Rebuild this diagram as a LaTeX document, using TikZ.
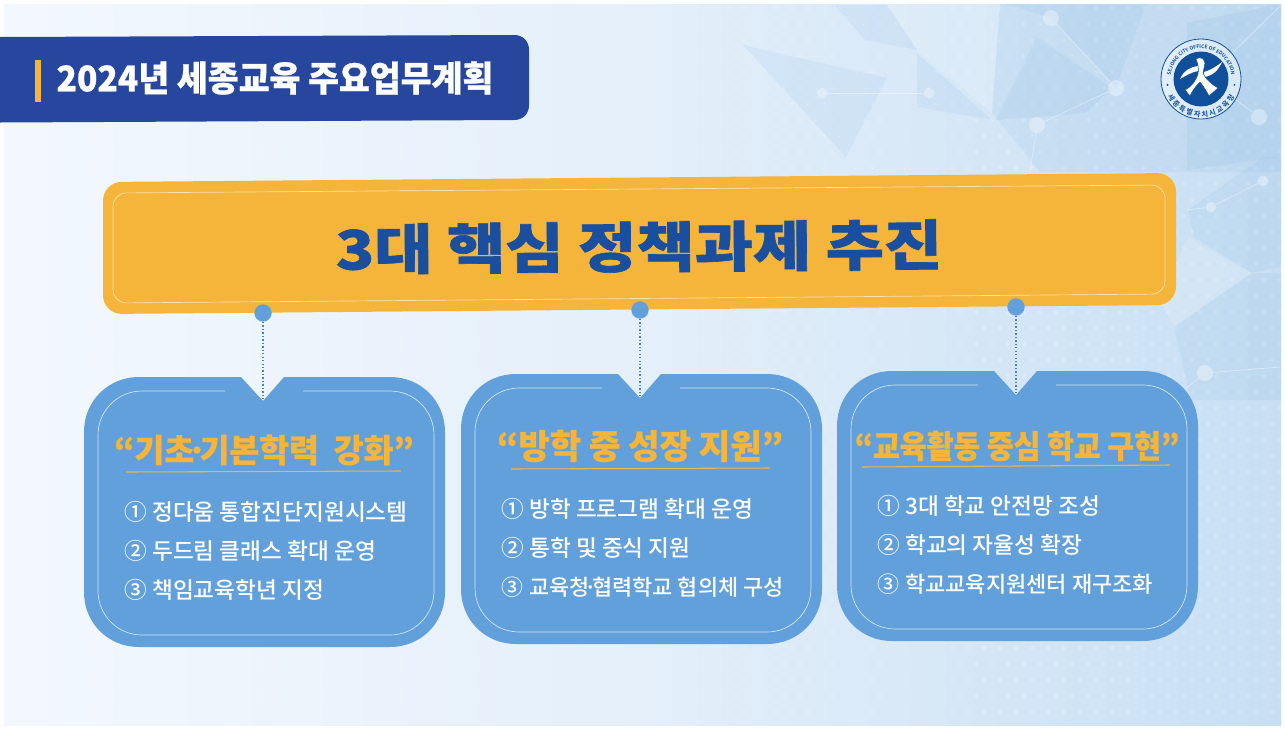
\documentclass[tikz,border=0pt]{standalone}
\usepackage{fontspec}
\usetikzlibrary{positioning, decorations.text}
\setmainfont{Noto Sans CJK KR}
\newfontfamily\krheavy[FakeBold=.8]{Noto Sans CJK KR Black}
\newfontfamily\krbold{Noto Sans CJK KR Bold}
\newfontfamily\krmedium{Noto Sans CJK KR Medium}
\newfontfamily\krwide[FakeStretch=1.17, FakeBold=1.2]{Noto Sans CJK KR Black}
\newfontfamily\krnarrow[FakeStretch=.95, FakeBold=.8]{Noto Sans CJK KR Black}
\newfontfamily\krcond[FakeStretch=.91, FakeBold=.8]{Noto Sans CJK KR Black}
\definecolor{bgleft}{RGB}{243, 248, 254}
\definecolor{bgright}{RGB}{200, 223, 243}
\definecolor{barblue}{RGB}{39, 71, 159}
\definecolor{bandyellow}{RGB}{245, 181, 59}
\definecolor{headblue}{RGB}{26, 79, 160}
\definecolor{cardblue}{RGB}{97, 160, 218}
\definecolor{logoblue}{RGB}{16, 80, 155}
\tikzset{
    polydark/.style={fill=cardblue, fill opacity=.09},
    polylight/.style={fill=white, fill opacity=.14},
    netline/.style={draw=white, opacity=.4, line width=.6pt},
    netdot/.style={circle, fill=white, opacity=.35, inner sep=0pt, minimum size=12pt},
    dotnode/.style={circle, fill=cardblue, inner sep=0pt, minimum size=13pt},
    dottedlink/.style={draw=cardblue!80!black, line width=1pt, dash pattern=on 1pt off 1.6pt},
    cardtitle/.style={text=bandyellow, font=\krheavy\fontsize{24.3}{25}\selectfont, inner sep=0pt},
    itemtext/.style={text=white, anchor=mid west, inner sep=0pt, font=\krmedium\fontsize{17}{17}\selectfont},
    innerline/.style={draw=white, opacity=.75, line width=.5pt},
    underline/.style={draw=bandyellow, line width=.8pt}
}
\newcommand{\numbox}[1]{\makebox[21pt][l]{#1}}
\newcommand{\tightdot}{\kern-.22em·\kern-.22em}
\newcommand{\infocard}[2]{%
    \fill[cardblue] (#1-22,#2) -- (#1-124,#2) .. controls (#1-155,#2) and (#1-179,#2+24) .. (#1-179,#2+55) -- (#1-179,#2+215) .. controls (#1-179,#2+246) and (#1-155,#2+270) .. (#1-124,#2+270) -- (#1+127,#2+270) .. controls (#1+158,#2+270) and (#1+182,#2+246) .. (#1+182,#2+215) -- (#1+182,#2+55) .. controls (#1+182,#2+24) and (#1+158,#2) .. (#1+127,#2) -- (#1+21,#2) -- (#1,#2+24) -- cycle;
    \draw[innerline, rounded corners=33pt] (#1-38,#2+14) -- (#1-165,#2+14) -- (#1-165,#2+258) -- (#1+171,#2+258) -- (#1+171,#2+14) -- (#1+40,#2+14);
}
\begin{document}
\begin{tikzpicture}[x=.75pt, y=-.75pt]
    \useasboundingbox (0,0) rectangle (1285,729);
    \fill[white] (0,0) rectangle (1285,729);
    \shade[left color=bgleft, right color=bgright, middle color=bgleft!65!bgright] (4,4) rectangle (1281,725);

    % backdrop
    \foreach \i in {0,...,79} {\foreach \j in {0,...,44} {
        \fill[white, opacity=.25] ({8+\i*16+mod(\j,2)*8},{8+\j*16}) circle (1.4pt);
    }}
    \fill[polydark] (743,45) -- (887,78) -- (846,157) -- cycle;
    \fill[polydark] (835,5) -- (887,5) -- (917,50) -- (865,40) -- cycle;
    \fill[polydark] (917,53) -- (992,120) -- (917,107) -- cycle;
    \fill[polylight] (887,4) -- (1000,4) -- (992,113) -- (917,50) -- cycle;
    \fill[polydark] (1004,4) -- (1146,4) -- (1116,88) -- (1051,18) -- cycle;
    \fill[polydark] (1037,37) -- (1112,88) -- (1086,113) -- (996,120) -- cycle;
    \fill[polydark] (1000,4) -- (1281,4) -- (1281,172) -- (1040,172) -- (992,113) -- cycle;
    \fill[polydark] (1187,23) -- (1281,4) -- (1281,157) -- (1187,170) -- cycle;
    \fill[polydark] (1188,210) -- (1263,157) -- (1281,157) -- (1281,267) -- (1252,273) -- (1194,237) -- cycle;
    \fill[polylight] (1188,237) -- (1252,273) -- (1174,327) -- (1160,300) -- cycle;
    \fill[polydark] (1174,327) -- (1252,273) -- (1281,273) -- (1281,400) -- (1191,400) -- cycle;

    \node[netdot] (net1) at (1051,18) {};
    \node[netdot] (net2) at (1116,88) {};
    \node[netdot] (net3) at (1037,125) {};
    \node[netdot] (net4) at (1259,117) {};
    \node[netdot, minimum size=8pt] (net5) at (822,93) {};
    \node[netdot, minimum size=8pt] (net6) at (929,93) {};
    \node[netdot, minimum size=8pt] (net7) at (1211,207) {};
    \node[netdot, minimum size=8pt] (net8) at (1263,181) {};
    \node[netdot] (net9) at (1205,373) {};
    \coordinate (netend1) at (1281,367);
    \coordinate (netend2) at (1184,390);
    \coordinate (netend3) at (1030,172);
    \coordinate (netend4) at (1281,5);
    \coordinate (netend5) at (1187,210);
    \coordinate (netend6) at (1210,80);
    \coordinate (netend7) at (1210,75);
    \draw[netline] (net1) -- (net2);
    \draw[netline] (net2) -- (net3);
    \draw[netline] (net3) -- (netend3);
    \draw[netline] (net5) -- (net6);
    \draw[netline] (net7) -- (net8);
    \draw[netline] (net7) -- (netend5);
    \draw[netline] (net9) -- (netend1);
    \draw[netline] (net9) -- (netend2);
    \draw[netline] (net4) -- (netend6);
    \draw[netline] (netend4) -- (netend7);

    % header bar
    \fill[barblue] (0,37) -- (514,35) .. controls (523,35) and (529,41) .. (529,50) -- (529,105) .. controls (529,114) and (523,120) .. (514,120) -- (0,122.5) -- cycle;
    \fill[bandyellow] (35,60) rectangle (41,102);
    \node[text=white, font=\krnarrow\fontsize{26.5}{27}\selectfont, inner sep=0pt] (header) at (275,78) {2024년 세종교육 주요업무계획};

    % logo
    \begin{scope}[shift={(1201,79)}, x=.75pt, y=.75pt]
        \fill[white, fill opacity=.5] (0,0) circle (30pt);
        \draw[logoblue, line width=.6pt] (0,0) circle (30pt);
        \fill[logoblue] (0,0) circle (20.6pt);
        \fill[logoblue] (190:34) circle (.8pt);
        \fill[logoblue] (-10:34) circle (.8pt);
        \path[decorate, decoration={text along path, text align=center, text={|\fontsize{3.7}{5}\selectfont\krbold\color{logoblue}|SEJONG CITY OFFICE OF EDUCATION}}] (178:30.5) arc[start angle=178, end angle=2, radius=30.5];
        \path[decorate, decoration={text along path, text align={fit to path}, text={|\fontsize{5.4}{5}\selectfont\krbold\color{logoblue}|세종특별자치시교육청}}] (208:38) arc[start angle=208, end angle=332, radius=38];
        \fill[white] (-21,0) .. controls (-17,9) and (-10,12) .. (-3,13) -- (-3,8) .. controls (-9,7) and (-14,4) .. (-21,0) -- cycle;
        \fill[white] (21,17) .. controls (17,8) and (11,3) .. (3,2) -- (3,7) .. controls (10,9) and (16,13) .. (21,17) -- cycle;
        \fill[white, draw=logoblue, line width=.4pt] (-5,20) .. controls (-2,22) and (3,22) .. (4,16) -- (2,6) .. controls (3,2) and (10,-5) .. (17,-9) -- (8,-17) .. controls (6,-13) and (3,-8) .. (-1,-3) .. controls (-5,-7) and (-9,-12) .. (-11,-17) -- (-16,-11) .. controls (-10,-8) and (-5,-2) .. (-3,5) .. controls (-2,10) and (-3,15) .. (-5,20) -- cycle;
    \end{scope}

    % yellow band
    \fill[bandyellow, rounded corners=14pt] (103,182) -- (1176,173) -- (1176,305) -- (103,314) -- cycle;
    \draw[draw=white, opacity=.6, line width=.5pt, rounded corners=10pt] (113,193) -- (1165,185) -- (1165,294) -- (113,303) -- cycle;
    \node[text=headblue, font=\krwide\fontsize{40.6}{41}\selectfont, inner sep=0pt, rotate=.45] (band) at (639,247) {3대 핵심 정책과제 추진};

    % cards
    \infocard{263}{377}
    \infocard{640}{374}
    \infocard{1016}{371}

    \node[dotnode] (dot1) at (263,313) {};
    \node[dotnode] (dot2) at (640,310) {};
    \node[dotnode] (dot3) at (1016,307) {};
    \coordinate (notch1) at (263,399);
    \coordinate (notch2) at (640,396);
    \coordinate (notch3) at (1016,393);
    \draw[dottedlink] (dot1) -- (notch1);
    \draw[dottedlink] (dot2) -- (notch2);
    \draw[dottedlink] (dot3) -- (notch3);

    \node[cardtitle] (title1) at (264,450) {“기초\tightdot 기본학력~~강화”};
    \node[cardtitle, font=\krheavy\fontsize{25.6}{26}\selectfont] (title2) at (640,446) {“방학 중 성장 지원”};
    \node[cardtitle, font=\krcond\fontsize{24}{24}\selectfont] (title3) at (1017,446) {“교육활동 중심 학교 구현”};
    \coordinate (rule1a) at (126,472);
    \coordinate (rule1b) at (401,471);
    \coordinate (rule2a) at (511,469);
    \coordinate (rule2b) at (770,468);
    \coordinate (rule3a) at (862,467);
    \coordinate (rule3b) at (1170,465);
    \draw[underline] (rule1a) -- (rule1b);
    \draw[underline] (rule2a) -- (rule2b);
    \draw[underline] (rule3a) -- (rule3b);

    \node[itemtext] (item11) at (124,517) {\numbox{①}정다움 통합진단지원시스템};
    \node[itemtext] (item12) at (124,556) {\numbox{②}두드림 클래스 확대 운영};
    \node[itemtext] (item13) at (124,595) {\numbox{③}책임교육학년 지정};
    \node[itemtext] (item21) at (501,514) {\numbox{①}방학 프로그램 확대 운영};
    \node[itemtext] (item22) at (501,553) {\numbox{②}통학 및 중식 지원};
    \node[itemtext, font=\krmedium\fontsize{16.4}{17}\selectfont] (item23) at (501,592) {\numbox{③}교육청\tightdot 협력학교 협의체 구성};
    \node[itemtext] (item31) at (877,511) {\numbox{①}3대 학교 안전망 조성};
    \node[itemtext] (item32) at (877,550) {\numbox{②}학교의 자율성 확장};
    \node[itemtext, font=\krmedium\fontsize{16.5}{17}\selectfont] (item33) at (877,589) {\numbox{③}학교교육지원센터 재구조화};
\end{tikzpicture}
\end{document}
